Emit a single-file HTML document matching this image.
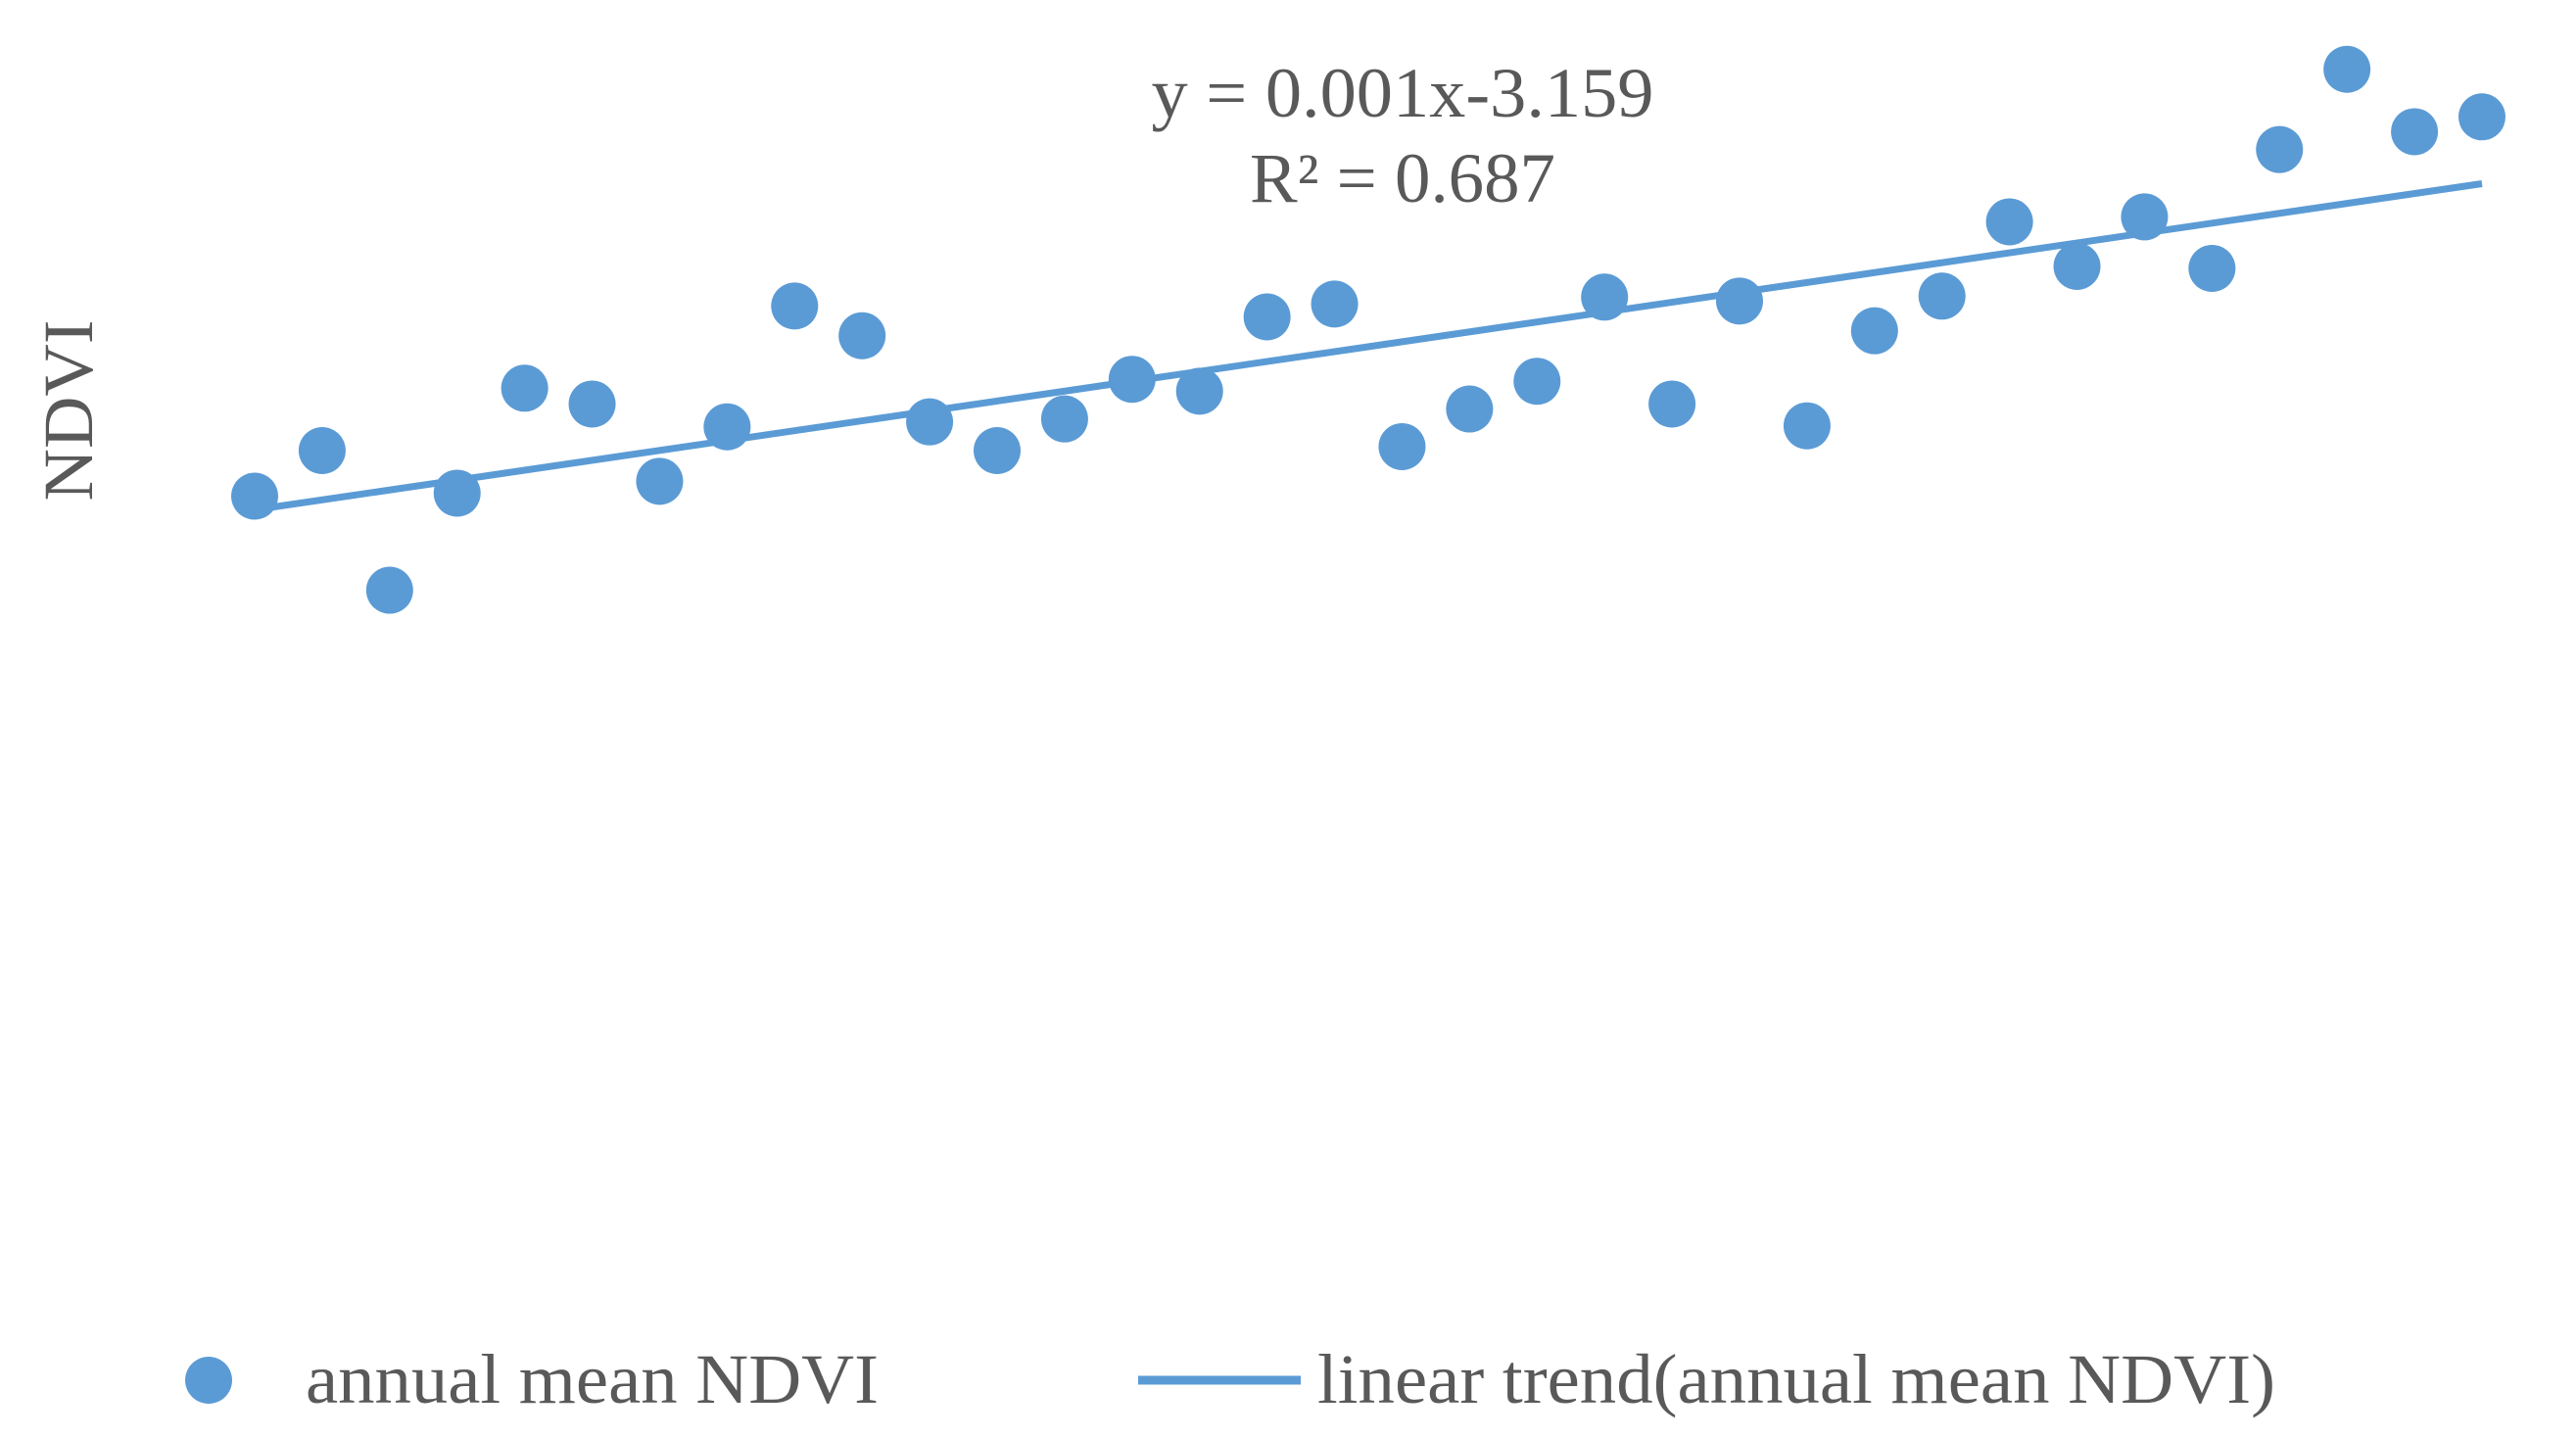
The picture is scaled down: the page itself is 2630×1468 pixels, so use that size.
<!DOCTYPE html>
<html><head><meta charset="utf-8"><style>
html,body{margin:0;padding:0;background:#fff;}
svg{display:block;font-family:"Liberation Serif","Times New Roman",serif;}
</style></head><body>
<svg id="chart" width="2630" height="1468" viewBox="0 0 2630 1468" xmlns="http://www.w3.org/2000/svg">
<rect width="2630" height="1468" fill="#fff"/>
<g id="plot"></g>
<text x="1432" y="119" font-size="72" fill="#595959" text-anchor="middle" textLength="513" lengthAdjust="spacingAndGlyphs">y = 0.001x-3.159</text>
<text x="1432" y="206" font-size="72" fill="#595959" text-anchor="middle" textLength="312" lengthAdjust="spacingAndGlyphs">R² = 0.687</text>
<text transform="translate(94,419) rotate(-90)" font-size="72" fill="#595959" text-anchor="middle" textLength="185" lengthAdjust="spacingAndGlyphs">NDVI</text>
<g>
  <g>
    <circle cx="213" cy="1409" r="24" fill="#5b9bd5"/>
    <text x="312" y="1432" font-size="72" fill="#595959" textLength="585" lengthAdjust="spacingAndGlyphs">annual mean NDVI</text>
  </g>
  <g>
    <line x1="1162" y1="1409" x2="1328" y2="1409" stroke="#5b9bd5" stroke-width="9"/>
    <text x="1345" y="1432" font-size="72" fill="#595959" textLength="978" lengthAdjust="spacingAndGlyphs">linear trend(annual mean NDVI)</text>
  </g>
</g>
</svg>
<script>
const years = [1986,1987,1988,1989,1990,1991,1992,1993,1994,1995,1996,1997,1998,1999,2000,2001,2002,2003,2004,2005,2006,2007,2008,2009,2010,2011,2012,2013,2014,2015,2016,2017,2018,2019];
const ndviValues = [0.3500,0.3546,0.3405,0.3503,0.3609,0.3593,0.3515,0.3570,0.3692,0.3662,0.3575,0.3546,0.3578,0.3618,0.3606,0.3681,0.3694,0.3550,0.3588,0.3616,0.3701,0.3593,0.3697,0.3571,0.3667,0.3702,0.3777,0.3732,0.3782,0.3730,0.3850,0.3931,0.3868,0.3883];
const yDomain = [0.30, 0.40];

const xScale = y => 260 + (y - years[0]) * (2534 - 260) / (years[years.length-1] - years[0]);
const yScale = v => 1012 - (v - yDomain[0]) * (1012 - 1) / (yDomain[1] - yDomain[0]);

const NS = "http://www.w3.org/2000/svg";
const plot = document.getElementById('plot');

// regression
const n = years.length;
const mx = years.reduce((a,b)=>a+b,0)/n, my = ndviValues.reduce((a,b)=>a+b,0)/n;
let sxy=0, sxx=0;
for (let i=0;i<n;i++){ sxy+=(years[i]-mx)*(ndviValues[i]-my); sxx+=(years[i]-mx)**2; }
const slope = sxy/sxx, icpt = my - slope*mx;
const x0 = years[0], x1 = years[n-1];
const tl = document.createElementNS(NS,'line');
tl.setAttribute('x1', xScale(x0)); tl.setAttribute('y1', yScale(icpt+slope*x0));
tl.setAttribute('x2', xScale(x1)); tl.setAttribute('y2', yScale(icpt+slope*x1));
tl.setAttribute('stroke','#5b9bd5'); tl.setAttribute('stroke-width','7');


plot.appendChild(tl);

for (let i=0;i<n;i++){
  const c = document.createElementNS(NS,'circle');
  c.setAttribute('cx', xScale(years[i]));
  c.setAttribute('cy', yScale(ndviValues[i]));
  c.setAttribute('r', 24);
  c.setAttribute('fill', '#5b9bd5');
  
  
  plot.appendChild(c);
}
</script>
</body></html>
